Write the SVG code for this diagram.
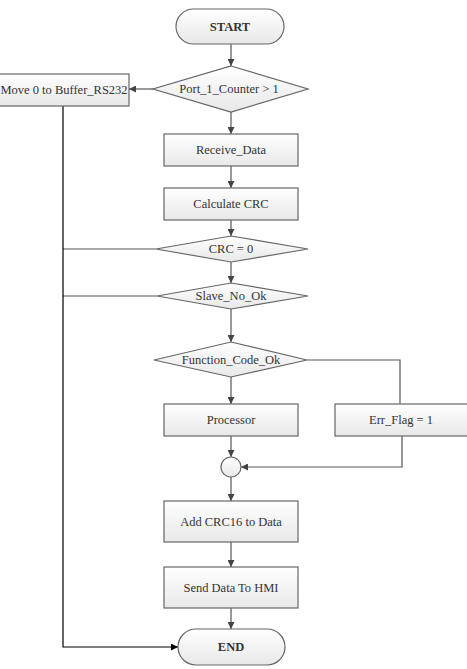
<svg xmlns="http://www.w3.org/2000/svg" width="467" height="669" viewBox="0 0 467 669">
<defs>
<linearGradient id="g" x1="0" y1="0" x2="0" y2="1">
<stop offset="0" stop-color="#ffffff"/>
<stop offset="1" stop-color="#e8e8e8"/>
</linearGradient>
<marker id="ah" viewBox="0 0 10 10" refX="10" refY="5" markerWidth="7" markerHeight="7" markerUnits="userSpaceOnUse" orient="auto">
<path d="M0,0 L10,5 L0,10 z" fill="#444"/>
</marker>
<marker id="ahk" viewBox="0 0 10 10" refX="10" refY="5" markerWidth="7" markerHeight="7" markerUnits="userSpaceOnUse" orient="auto">
<path d="M0,0 L10,5 L0,10 z" fill="#000"/>
</marker>
</defs>
<style>
.s{fill:url(#g);stroke:#666;stroke-width:1.2}
text{font-family:'Liberation Serif','Times New Roman','DejaVu Serif',serif;font-size:12.5px;fill:#333;text-anchor:middle;dominant-baseline:central}
.b{font-weight:bold}
.c{fill:none;stroke:#555;stroke-width:1.2}
.k{fill:none;stroke:#000;stroke-width:1.2}
</style>
<rect width="467" height="669" fill="#fff"/>
<g id="connectors">
<path class="c" d="M231,44 V66" marker-end="url(#ah)"/>
<path class="c" d="M154,89 H129" marker-end="url(#ah)"/>
<path class="c" d="M231,112 V134" marker-end="url(#ah)"/>
<path class="c" d="M231,166 V188" marker-end="url(#ah)"/>
<path class="c" d="M231,220 V236" marker-end="url(#ah)"/>
<path class="c" d="M231,262 V283" marker-end="url(#ah)"/>
<path class="c" d="M231,309 V342" marker-end="url(#ah)"/>
<path class="c" d="M231,377 V404" marker-end="url(#ah)"/>
<path class="c" d="M307,360 H400 V404"/>
<path class="c" d="M231,436 V457" marker-end="url(#ah)"/>
<path class="c" d="M402,436 V467 H241" marker-end="url(#ah)"/>
<path class="c" d="M231,477 V501" marker-end="url(#ah)"/>
<path class="c" d="M231,542 V567" marker-end="url(#ah)"/>
<path class="c" d="M231,608 V629" marker-end="url(#ah)"/>
<path class="c" d="M156,249 H63"/>
<path class="c" d="M157,296 H63"/>
<path class="k" d="M63,106 V647 H178" marker-end="url(#ahk)"/>
</g>
<g id="start"><rect class="s" x="176" y="9" width="108" height="35" rx="17.5"/><text class="b" x="230" y="26.5">START</text></g>
<g id="d1"><polygon class="s" points="231,66 308,89 231,112 153,89"/><text x="229" y="89">Port_1_Counter &gt; 1</text></g>
<g id="move"><rect class="s" x="-1" y="74" width="130" height="32"/><text x="64" y="90">Move 0 to Buffer_RS232</text></g>
<g id="receive"><rect class="s" x="164" y="134" width="134" height="32"/><text x="231" y="150">Receive_Data</text></g>
<g id="calc"><rect class="s" x="164" y="188" width="134" height="32"/><text x="231" y="204">Calculate CRC</text></g>
<g id="crc"><polygon class="s" points="231,236 308,249 231,262 156,249"/><text x="231" y="249">CRC = 0</text></g>
<g id="slave"><polygon class="s" points="231,283 308,296 231,309 157,296"/><text x="231" y="296">Slave_No_Ok</text></g>
<g id="func"><polygon class="s" points="231,342 307,360 231,377 154,360"/><text x="231" y="360">Function_Code_Ok</text></g>
<g id="proc"><rect class="s" x="164" y="404" width="134" height="32"/><text x="231" y="420">Processor</text></g>
<g id="err"><rect class="s" x="335" y="404" width="133" height="32"/><text x="401" y="420">Err_Flag = 1</text></g>
<g id="join"><circle class="s" cx="231" cy="467" r="10"/></g>
<g id="add"><rect class="s" x="164" y="501" width="134" height="41"/><text x="231" y="521.5">Add CRC16 to Data</text></g>
<g id="send"><rect class="s" x="164" y="567" width="134" height="41"/><text x="231" y="587.5">Send Data To HMI</text></g>
<g id="end"><rect class="s" x="178" y="629" width="107" height="36" rx="18"/><text class="b" x="231" y="647">END</text></g>
</svg>
